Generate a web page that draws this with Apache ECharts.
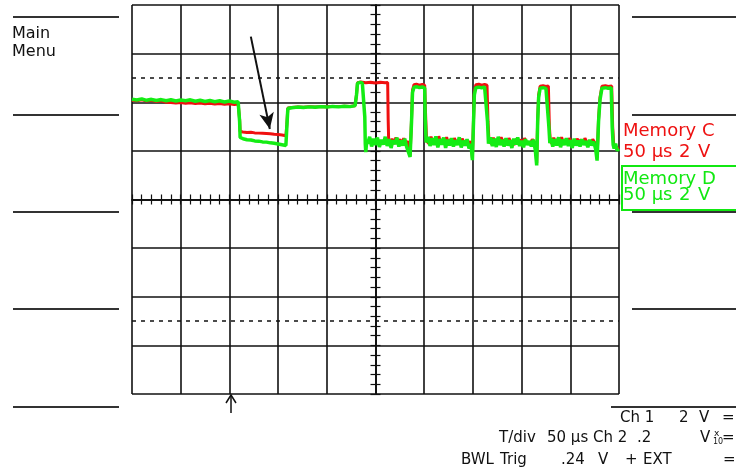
<!DOCTYPE html>
<html><head><meta charset="utf-8">
<script src="https://cdn.jsdelivr.net/npm/echarts@6/dist/echarts.min.js"></script>
<style>html,body{margin:0;padding:0;background:#fff}#c{width:736px;height:472px}</style>
</head><body><div id="c"></div>
<script>
// time in µs relative to screen centre (50 µs/div), voltage in V (2 V/div)
var timeMin = -250, timeMax = 250, timeStep = 50;
var voltMin = -8, voltMax = 8, voltStep = 2;
var refLevels = [5, -5];
var memoryC = [
[-250,4.08],[-245,4.06],[-240,4.10],[-235,4.05],[-230,4.08],[-225,4.03],[-220,4.06],[-215,4.00],[-210,3.99],[-205,3.97],[-200,3.99],[-195,3.96],[-190,3.98],[-185,3.95],[-180,3.97],[-175,3.94],[-170,3.96],[-165,3.93],[-160,3.95],[-155,3.92],[-150,3.94],[-145,3.91],[-141,3.93],
[-139.5,3.3],[-139,2.80],
[-136,2.78],[-132,2.76],[-128,2.77],[-124,2.74],[-120,2.73],[-116,2.72],[-112,2.71],[-108,2.70],[-104,2.68],[-100,2.67],[-96,2.65],[-92,2.62],
[-91,3.1],[-90,3.76],
[-86,3.78],[-80,3.80],[-74,3.79],[-68,3.82],[-62,3.80],[-56,3.82],[-50,3.81],[-44,3.83],[-38,3.82],[-32,3.84],[-26,3.83],[-21,3.86],
[-19.5,4.3],[-18.5,4.80],
[-15,4.83],[-10,4.80],[-5,4.82],[0,4.79],[5,4.82],[10,4.80],[12.5,4.81],
[13,3.3],[13.5,2.45],
[15,2.30],[17,2.50],[19,2.28],[21,2.55],[23,2.34],[25,2.48],[27,2.26],[29,2.52],[31,2.30],[33,2.40],[34.5,2.15],
[35.5,1.80],[37,3.3],[38,4.5],[39.5,4.72],[42,4.74],[45,4.70],[48,4.73],[50.5,4.70],
[51.5,3.4],[52.5,2.40],
[55,2.30],[57,2.58],[59,2.34],[61,2.50],[63,2.26],[65,2.60],[67,2.32],[69,2.46],[71,2.36],[73,2.56],[75,2.28],[77,2.48],[79,2.30],[81,2.52],[83,2.34],[85,2.44],[87,2.28],[89,2.50],[91,2.32],[93,2.42],[95,2.26],[97,2.40],[98.5,2.20],
[99.5,1.70],[100.5,3.1],[101.5,4.4],[103,4.72],[106,4.74],[109,4.70],[112,4.73],[114.5,4.70],
[115.5,3.2],[116.5,2.40],
[119,2.30],[121,2.54],[123,2.32],[125,2.48],[127,2.28],[129,2.56],[131,2.34],[133,2.46],[135,2.30],[137,2.52],[139,2.36],[141,2.44],[143,2.26],[145,2.50],[147,2.34],[149,2.46],[151,2.30],[153,2.52],[155,2.36],[157,2.42],[159,2.28],[161,2.48],[163,2.34],[164.5,2.20],
[165.5,1.50],[166.5,3.3],[167.5,4.3],[169,4.66],[172,4.68],[175,4.65],[177.5,4.67],
[178.5,3.0],[179.5,2.40],
[181,2.30],[183,2.54],[185,2.32],[187,2.48],[189,2.28],[191,2.56],[193,2.34],[195,2.46],[197,2.30],[199,2.52],[201,2.36],[203,2.44],[205,2.26],[207,2.50],[209,2.34],[211,2.46],[213,2.30],[215,2.52],[217,2.36],[219,2.42],[221,2.28],[223,2.48],[225,2.34],[226.5,2.20],
[227.5,1.70],[229,3.3],[230.5,4.2],[232.5,4.66],[236,4.68],[239,4.65],[242.5,4.67],
[243.5,3.0],[244.5,2.30],
[246,2.20],[248,2.10],[250,2.12]
];
var memoryD = [
[-250,4.12],[-245,4.09],[-240,4.14],[-235,4.08],[-230,4.12],[-225,4.07],[-220,4.11],[-215,4.06],[-210,4.10],[-205,4.05],[-200,4.09],[-195,4.06],[-190,4.10],[-185,4.04],[-180,4.08],[-175,4.03],[-170,4.07],[-165,4.02],[-160,4.06],[-155,4.01],[-150,4.05],[-145,4.00],[-141,4.02],
[-139.5,3.2],[-139,2.55],
[-136,2.50],[-132,2.46],[-128,2.45],[-124,2.41],[-120,2.40],[-116,2.37],[-112,2.36],[-108,2.33],[-104,2.31],[-100,2.28],[-96,2.25],[-92,2.22],
[-91,3.0],[-90,3.74],
[-86,3.77],[-80,3.80],[-74,3.78],[-68,3.81],[-62,3.79],[-56,3.82],[-50,3.80],[-44,3.83],[-38,3.81],[-32,3.84],[-26,3.82],[-21,3.86],
[-19.5,4.3],[-18.5,4.78],[-16,4.82],[-13.5,4.79],[-11.5,4.76],
[-11,3.4],[-10.5,2.3],[-10,1.95],[-9,2.4],
[-8,2.30],[-6,2.58],[-4,2.18],[-2,2.50],[0,2.24],[2,2.55],[4,2.16],[6,2.46],[8,2.26],[10,2.58],[12,2.20],[14,2.48],[16,2.12],[18,2.44],[20,2.28],[22,2.54],[24,2.18],[26,2.42],[28,2.22],[30,2.50],[32,2.16],[34,2.08],
[35.5,1.75],[37,3.2],[38,4.4],[39.5,4.62],[42,4.64],[45,4.60],[48,4.63],[50.5,4.58],
[51,3.4],[52,2.35],
[54,2.58],[56,2.20],[58,2.52],[60,2.24],[62,2.60],[64,2.14],[66,2.48],[68,2.26],[70,2.55],[72,2.12],[74,2.46],[76,2.22],[78,2.52],[80,2.18],[82,2.44],[84,2.24],[86,2.56],[88,2.14],[90,2.42],[92,2.22],[94,2.48],[96,2.10],[98,2.28],
[99.5,1.62],[100.5,3.0],[101.5,4.3],[103,4.6],[106,4.62],[109,4.59],[112,4.63],[114,4.60],
[115,3.2],[116,2.30],
[118,2.55],[120,2.20],[122,2.50],[124,2.16],[126,2.58],[128,2.24],[130,2.46],[132,2.18],[134,2.52],[136,2.22],[138,2.44],[140,2.12],[142,2.50],[144,2.26],[146,2.55],[148,2.20],[150,2.42],[152,2.15],[154,2.48],[156,2.24],[158,2.40],[160,2.18],[162,2.46],[164,2.06],
[165.5,1.40],[166.5,3.2],[167.5,4.2],[169,4.58],[172,4.60],[175,4.57],[177,4.60],
[178,3.0],[179,2.32],
[180,2.52],[182,2.18],[184,2.48],[186,2.22],[188,2.56],[190,2.15],[192,2.46],[194,2.24],[196,2.52],[198,2.20],[200,2.44],[202,2.12],[204,2.50],[206,2.22],[208,2.42],[210,2.18],[212,2.48],[214,2.24],[216,2.40],[218,2.15],[220,2.46],[222,2.22],[224,2.38],[226,2.08],
[227.5,1.60],[229,3.2],[230.5,4.1],[232.5,4.58],[236,4.60],[239,4.57],[242,4.60],
[243,3.0],[244,2.25],
[245,2.10],[246.5,2.30],[248,2.02],[250,2.08]
];
// annotation arrow (data coordinates: start, end)
var arrowFrom = [-128, 6.7], arrowTo = [-108.5, 2.9];

var FONT = '"DejaVu Sans", sans-serif';
var chart = echarts.init(document.getElementById('c'), null, {renderer: 'canvas'});
var ink = '#111';
function xAx(pos) {
  return {type: 'value', min: timeMin, max: timeMax, interval: timeStep, position: pos,
    axisLine: {show: true, onZero: true, lineStyle: {color: ink, width: 1.5}},
    axisTick: {show: true, length: 5, lineStyle: {color: ink, width: 1.2}},
    minorTick: {show: true, splitNumber: 5, length: 5, lineStyle: {color: ink, width: 1.2}},
    axisLabel: {show: false},
    splitLine: {show: pos === 'bottom', showMinLine: true, showMaxLine: true, lineStyle: {color: ink, width: 1.6}}};
}
function yAx(pos) {
  return {type: 'value', min: voltMin, max: voltMax, interval: voltStep, position: pos,
    axisLine: {show: true, onZero: true, lineStyle: {color: ink, width: 1.5}},
    axisTick: {show: true, length: 5, lineStyle: {color: ink, width: 1.2}},
    minorTick: {show: true, splitNumber: 5, length: 5, lineStyle: {color: ink, width: 1.2}},
    axisLabel: {show: false},
    splitLine: {show: pos === 'left', showMinLine: true, showMaxLine: true, lineStyle: {color: ink, width: 1.6}}};
}
// text placed by its left edge x and its vertical middle y
function txt(x, y, s, color, size) {
  return {type: 'text', x: x, y: y, silent: true,
    style: {text: s, fill: color || ink, font: (size || 15) + 'px ' + FONT, verticalAlign: 'middle', align: 'left'}};
}
function hline(x1, x2, y, c) {
  return {type: 'line', silent: true, shape: {x1: x1, y1: y, x2: x2, y2: y}, style: {stroke: c || '#333', lineWidth: 2}};
}
var g = [];
[17, 115, 212, 309, 407].forEach(function (y) { g.push(hline(13, 119, y)); });
[17, 115, 212, 309].forEach(function (y) { g.push(hline(632, 736, y)); });
g.push(hline(611, 736, 407));
g.push({type: 'rect', silent: true, shape: {x: 622, y: 166, width: 120, height: 44}, style: {fill: 'none', stroke: '#11e811', lineWidth: 2}});
// trigger marker
g.push({type: 'polyline', silent: true, shape: {points: [[231, 413], [231, 396]]}, style: {stroke: ink, lineWidth: 1.5, fill: null}});
g.push({type: 'polyline', silent: true, shape: {points: [[226, 403], [231, 395], [236, 403]]}, style: {stroke: ink, lineWidth: 1.5, fill: null}});
// texts
g.push(txt(12, 34, 'Main', ink, 16));
g.push(txt(12, 52, 'Menu', ink, 16));
var red = '#ee1111', grn = '#11e811';
g.push(txt(623, 131, 'Memory C', red, 18));
g.push(txt(623, 152, '50 µs', red, 18));
g.push(txt(679, 152, '2', red, 18));
g.push(txt(698, 152, 'V', red, 18));
g.push(txt(623, 179, 'Memory D', grn, 18));
g.push(txt(623, 195, '50 µs', grn, 18));
g.push(txt(679, 195, '2', grn, 18));
g.push(txt(698, 195, 'V', grn, 18));
g.push(txt(620, 418, 'Ch 1', ink, 15));
g.push(txt(679, 418, '2', ink, 15));
g.push(txt(699, 418, 'V', ink, 15));
g.push(txt(722, 418, '=', ink, 15));
g.push(txt(499, 438, 'T/div', ink, 15));
g.push(txt(547, 438, '50 µs', ink, 15));
g.push(txt(593, 438, 'Ch 2', ink, 15));
g.push(txt(637, 438, '.2', ink, 15));
g.push(txt(700, 438, 'V', ink, 15));
g.push(txt(714, 434, 'x', ink, 9));
g.push(txt(713, 442, '10', ink, 8));
g.push(txt(722, 438, '=', ink, 15));
g.push(txt(461, 460, 'BWL', ink, 15));
g.push(txt(500, 460, 'Trig', ink, 15));
g.push(txt(561, 460, '.24', ink, 15));
g.push(txt(598, 460, 'V', ink, 15));
g.push(txt(625, 460, '+', ink, 15));
g.push(txt(643, 460, 'EXT', ink, 15));
g.push(txt(723, 460, '=', ink, 15));

chart.setOption({
  animation: false,
  backgroundColor: '#ffffff',
  grid: {left: 132, top: 5, right: 117, bottom: 78, show: false},
  xAxis: [xAx('bottom'), xAx('top')],
  yAxis: [yAx('left'), yAx('right')],
  series: [
    {name: 'Memory C', type: 'line', data: memoryC, showSymbol: false, symbol: 'none',
     lineStyle: {color: '#f01010', width: 3}, z: 3,
     markLine: {silent: true, symbol: 'none', label: {show: false},
       lineStyle: {color: ink, type: [4, 5], width: 1.5},
       data: refLevels.map(function (v) { return {yAxis: v}; })}},
    {name: 'Memory D', type: 'line', data: memoryD, showSymbol: false, symbol: 'none',
     lineStyle: {color: '#14ec14', width: 3.5}, z: 4,
     markLine: {silent: true, symbol: ['none', 'arrow'], symbolSize: [11, 16], label: {show: false},
       lineStyle: {color: ink, type: 'solid', width: 2},
       data: [[{coord: arrowFrom}, {coord: arrowTo}]]}}
  ],
  graphic: g
});
</script>
</body></html>
